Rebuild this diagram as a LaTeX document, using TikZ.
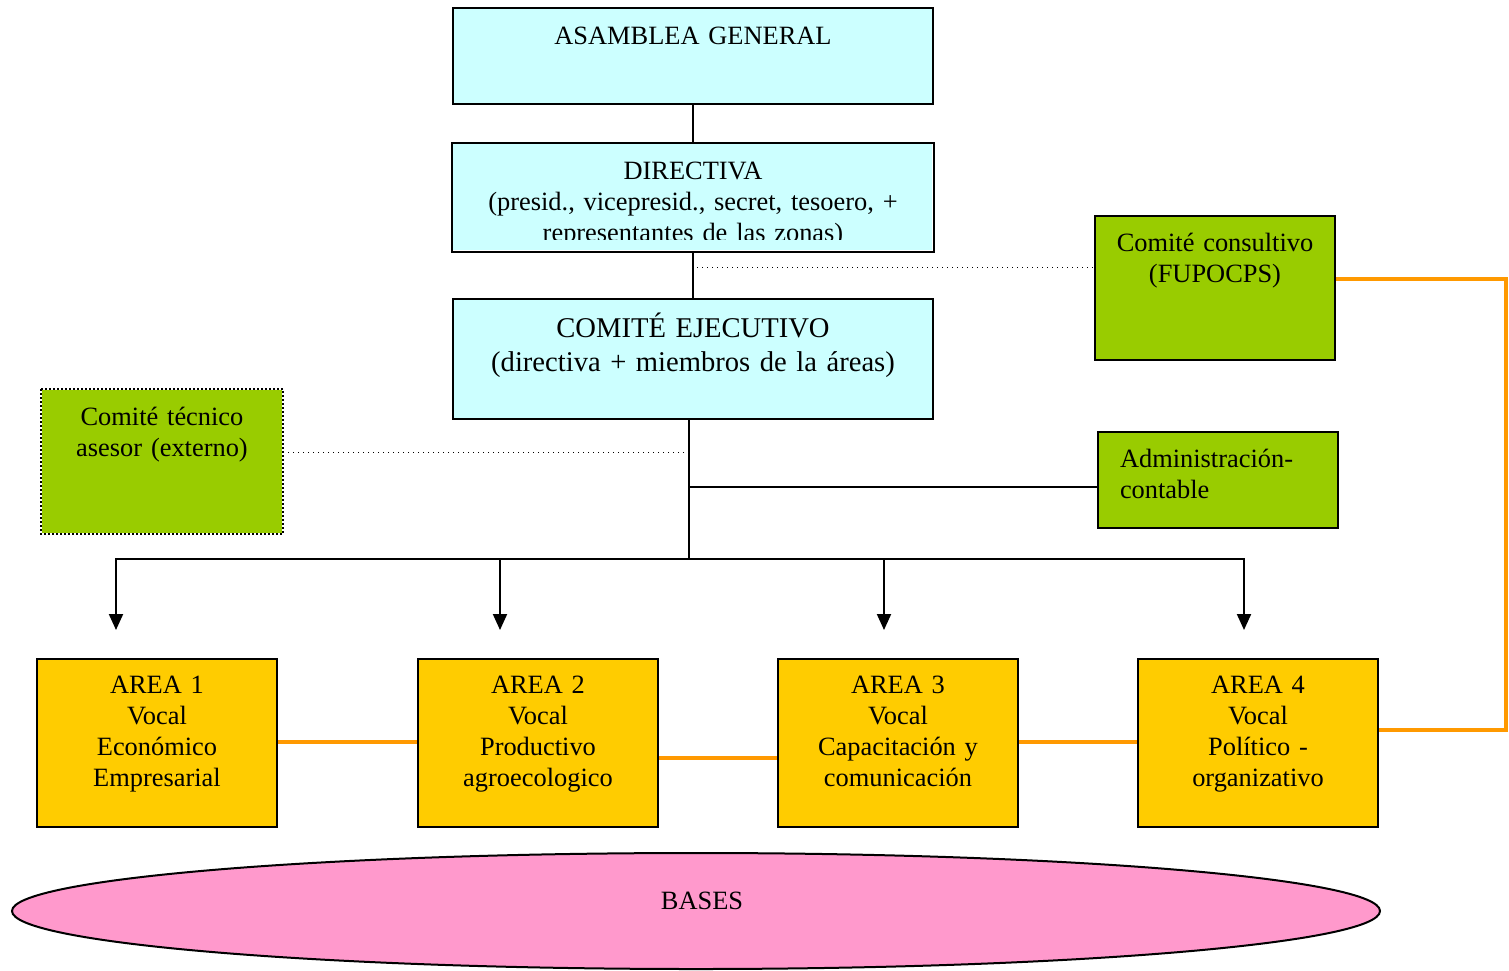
\documentclass[tikz,border=0pt]{standalone}
\usepackage{fontspec}
\setmainfont{Liberation Serif}
\usetikzlibrary{arrows.meta,shapes.geometric}
\definecolor{celeste}{HTML}{CCFFFF}
\definecolor{verde}{HTML}{99CC00}
\definecolor{amarillo}{HTML}{FFCC00}
\definecolor{rosa}{HTML}{FF99CC}
\definecolor{naranja}{HTML}{FF9900}
\tikzset{>={Triangle[length=8pt,width=7pt]}}

\begin{document}
\begin{tikzpicture}[x=0.5pt,y=-0.5pt,line width=1pt,
  caja/.style={draw,inner sep=0pt,anchor=north west,align=center,
    font=\fontsize{13.2}{15.5}\selectfont},
  organo/.style={caja,fill=celeste,text width=240pt},
  externo/.style={caja,fill=verde,text width=120pt,text height=17.5pt},
  area/.style={caja,fill=amarillo,text width=120pt,text height=17pt,text depth=67pt},
  enlace/.style={naranja,line width=2.2pt},
  aviso/.style={line width=0.5pt,dotted}]
\useasboundingbox (0,0) rectangle (1509,970);

\node[organo,text height=18pt,text depth=30pt] (asamblea) at (452,7) {ASAMBLEA GENERAL};
\fill[celeste] (452,143) rectangle (932,250);
\begin{scope}
\clip (452,143) rectangle (932,239);
\node[organo,draw=none,fill=none,text height=17.5pt,text depth=36pt] (directiva) at (452,143)
  {DIRECTIVA\\(presid., vicepresid., secret, tesoero, +\\representantes de las zonas)};
\end{scope}
\draw (directiva.north west) rectangle (directiva.south east);
\node[organo,text height=19pt,text depth=41pt,font=\fontsize{14.3}{17}\selectfont] (comite) at (452,298)
  {COMITÉ EJECUTIVO\\(directiva + miembros de la áreas)};

\node[externo,text depth=54.5pt] (consultivo) at (1094,215) {Comité consultivo\\(FUPOCPS)};
\node[externo,text depth=54pt,draw=none] (tecnico) at (41,389) {Comité técnico\\asesor (externo)};
\draw[line width=1pt,densely dotted] (tecnico.north west) rectangle (tecnico.south east);
\node[externo,text depth=30.5pt,align=left,inner xsep=11pt,text width=98pt] (admin) at (1097,431)
  {Administración-\\contable};

\node[area] (area1) at (36,658) {AREA 1\\Vocal\\Económico\\Empresarial};
\node[area] (area2) at (417,658) {AREA 2\\Vocal\\Productivo\\agroecologico};
\node[area] (area3) at (777,658) {AREA 3\\Vocal\\Capacitación y\\comunicación};
\node[area] (area4) at (1137,658) {AREA 4\\Vocal\\Político -\\organizativo};

\node[ellipse,draw,fill=rosa,inner sep=0pt,minimum width=684pt,minimum height=58pt,
  text height=8pt,text depth=10pt,font=\fontsize{13.2}{15.5}\selectfont] (bases) at (696,911)
  {\hspace*{6pt}BASES};

\coordinate (bus) at (689,559);
\coordinate (cj) at (692,267);
\coordinate (tj) at (689,452);
\coordinate (aj) at (689,487);
\coordinate (oc) at (1506,279);
\coordinate (ob) at (1506,730);
\coordinate (tip1) at (116,630);
\coordinate (tip2) at (500,630);
\coordinate (tip3) at (884,630);
\coordinate (tip4) at (1244,630);

\draw (asamblea) -- (directiva);
\draw (directiva) -- (comite);
\draw (bus |- comite.south) -- (bus);
\foreach \i in {1,...,4}
\draw[->] (bus) -| (tip\i);
\draw (aj) -- (aj -| admin.west);
\draw[aviso] (cj) -- (cj -| consultivo.west);
\draw[aviso] (tj) -- (tj -| tecnico.east);

\draw[enlace] (consultivo.east |- oc) -- (oc) -- (ob) -- (ob -| area4.east);
\draw[enlace] (area1.east |- 0,742) -- (area2.west |- 0,742);
\draw[enlace] (area2.east |- 0,758) -- (area3.west |- 0,758);
\draw[enlace] (area3.east |- 0,742) -- (area4.west |- 0,742);
\end{tikzpicture}
\end{document}
